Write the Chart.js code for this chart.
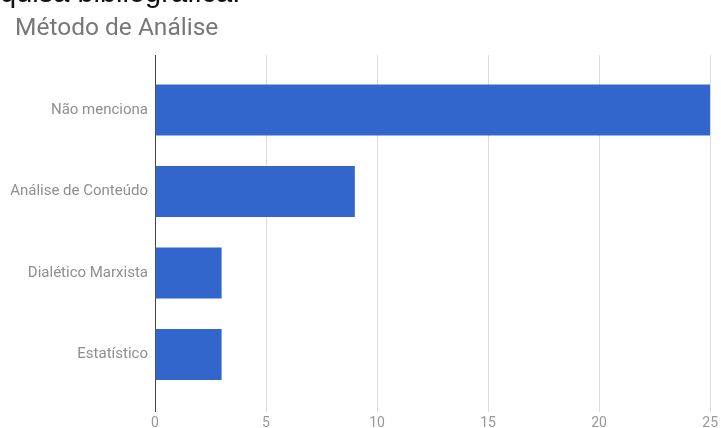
<!DOCTYPE html>
<html>
<head>
<meta charset="utf-8">
<script src="https://cdn.jsdelivr.net/npm/chart.js@4/dist/chart.umd.min.js"></script>
<style>
  body { margin: 0; background: #fff; overflow: hidden; }
  .wrap { position: relative; width: 721px; height: 428px; overflow: hidden; }
  .texto { position: absolute; left: 0; top: -24px; font: 29px Arial, "Liberation Sans", sans-serif; line-height: 33px; color: #111; white-space: nowrap; }
  .titulo { position: absolute; left: 15px; top: 15px; font: 24.5px Roboto, "Noto Sans", sans-serif; line-height: 24px; color: #777; white-space: nowrap; }
  canvas { position: absolute; left: 0; top: 0; }
</style>
</head>
<body>
<div class="wrap">
  <canvas id="myChart" width="721" height="428"></canvas>
  <div class="texto" id="texto">pesquisa bibliográfica.</div>
  <div class="titulo">Método de Análise</div>
</div>
<script>
const categorias = ['Não menciona', 'Análise de Conteúdo', 'Dialético Marxista', 'Estatístico'];
const quantidades = [25, 9, 3, 3];
const escalaX = [0, 25, 5]; // min, max, passo

// o começo da linha de texto fica fora da página, só aparece "quisa ..."
const texto = document.getElementById('texto');
const medidor = document.createElement('canvas').getContext('2d');
medidor.font = '29px Arial';
texto.style.left = (-medidor.measureText('pes').width) + 'px';

const ctx = document.getElementById('myChart').getContext('2d');
Chart.defaults.font.family = 'Roboto, "Noto Sans", sans-serif';

let pontos = [];
categorias.forEach((c, i) => {
    pontos.push({ x: quantidades[i], y: i });
});

const myChart = new Chart(ctx, {
    type: 'bar',
    data: {
        datasets: [{
            label: 'Método de Análise',
            data: pontos,
            backgroundColor: '#3366cc',
            borderWidth: 0,
            categoryPercentage: 1,
            barPercentage: 0.625
        }]
    },
    options: {
        indexAxis: 'y',
        responsive: false,
        animation: false,
        layout: { padding: { left: 0, right: 10, top: 55, bottom: 0 } },
        plugins: {
            legend: { display: false },
            tooltip: { enabled: false }
        },
        scales: {
            x: {
                type: 'linear',
                min: escalaX[0],
                max: escalaX[1],
                ticks: { stepSize: escalaX[2], color: '#999', font: { size: 14 }, padding: 3 },
                grid: {
                    drawTicks: false,
                    color: (c) => c.tick && c.tick.value === 0 ? '#444' : '#dcdcdc'
                },
                border: { display: false },
                afterFit: (scale) => { scale.height = 16; }
            },
            y: {
                type: 'linear',
                reverse: true,
                offset: false,
                min: -0.675,
                max: 3.706,
                afterBuildTicks: (scale) => {
                    scale.ticks = categorias.map((c, i) => ({ value: i }));
                },
                ticks: {
                    color: '#8f8f8f',
                    font: { size: 15 },
                    padding: 7,
                    callback: (v) => categorias[v]
                },
                grid: { display: false, drawTicks: false },
                border: { display: false },
                afterFit: (scale) => { scale.width = 155; }
            }
        }
    }
});
</script>
</body>
</html>
